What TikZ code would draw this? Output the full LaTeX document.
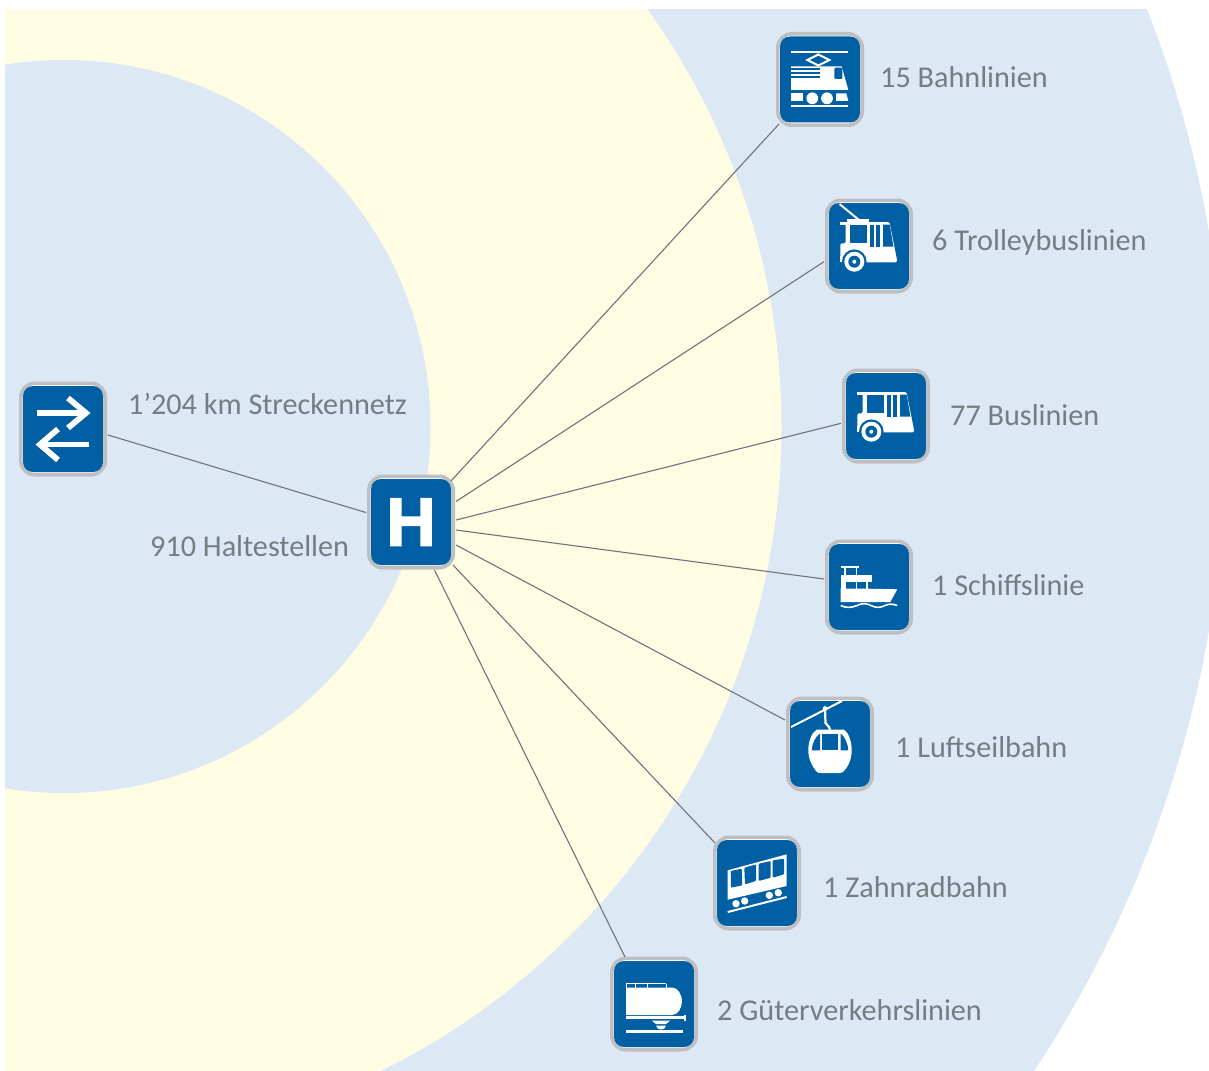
\documentclass[tikz,border=0pt]{standalone}
\usepackage{fontspec}
\setmainfont{Carlito}
\newfontfamily\hfont[BoldFeatures={FakeBold=2.5}]{Liberation Sans}
\definecolor{bgblue}{HTML}{DCE8F4}
\definecolor{bgyellow}{HTML}{FFFCE4}
\definecolor{iconblue}{HTML}{0060A3}
\definecolor{bordergray}{HTML}{BDBFC1}
\definecolor{labelgray}{HTML}{757D82}
\definecolor{linkgray}{HTML}{6E7478}
\tikzset{
  outerbox/.style={draw=bordergray,line width=3.6pt,fill=white,rounded corners=14pt,minimum width=84.4pt,minimum height=91.4pt,inner sep=0pt},
  innerbox/.style={fill=iconblue,rounded corners=10pt,minimum width=80pt,minimum height=86pt,inner sep=0pt},
  lab/.style={text=labelgray,font=\fontsize{30.2}{33}\selectfont,anchor=base west,inner sep=0pt},
  link/.style={draw=linkgray,line width=1.1pt},
  wf/.style={fill=white,draw=none},
  bf/.style={fill=iconblue,draw=none},
  wl/.style={draw=white,line width=#1},
  wl/.default=2pt,
}
\newcommand{\iconbox}[3]{%
  \node[outerbox] (#1) at (#2,#3) {};
  \node[innerbox] (#1-in) at (#1.center) {};
}
\newcommand{\busglyph}{%
  \fill[wf] (-28.7,-24) rectangle (19,-21.3);
  \fill[wf,rounded corners=1.5pt] (-23.3,-24) -- (20.5,-24) -- (28,14) -- (28,16.3) -- (-28.7,16.3) -- (-28.7,-2.7) -- (-23.3,-2.7) -- cycle;
  \fill[bf] (-19.3,-21.3) rectangle (-1.7,-2.7);
  \fill[bf] (1.3,-21.3) rectangle (4.7,0.7);
  \fill[bf] (6.7,-21.3) rectangle (11.3,0.7);
  \fill[bf] (14,-21.3) -- (20.8,-21.3) -- (24.4,0.7) -- (14,0.7) -- cycle;
  \fill[bf] (-14.7,15.7) circle (12.3);
  \fill[wf] (-14.7,15.7) circle (10);
  \fill[bf] (-14.7,15.7) circle (6);
  \fill[wf] (-14.7,15.7) circle (2);
  \fill[wf] (-28.7,10) rectangle (-26.7,16.3);
}
\begin{document}
\begin{tikzpicture}[x=1pt,y=-1pt]
\useasboundingbox (0,0) rectangle (1209,1070);
\begin{scope}
  \clip (5,10) rectangle (1209,1070);
  \fill[bgblue] (64,431) circle (1162);
  \fill[bgyellow] (64,427) circle (717.5);
  \fill[bgblue] (64,426.5) circle (366.5);
\end{scope}

\iconbox{train}{820}{79.5}
\iconbox{trolley}{869}{246}
\iconbox{bus}{886}{416}
\iconbox{ship}{869}{587}
\iconbox{gondola}{830}{744}
\iconbox{rack}{757}{883}
\iconbox{freight}{654}{1004}
\iconbox{net}{63}{429}
\iconbox{hub}{411}{522}

% connectors, from frame to frame
\draw[link] ([xshift=40pt,yshift=41pt]hub.center) -- ([xshift=-41pt,yshift=-44.5pt]train.center);
\draw[link] ([xshift=45pt,yshift=20.5pt]hub.center) -- ([xshift=-45pt,yshift=-15.7pt]trolley.center);
\draw[link] ([xshift=45pt,yshift=2pt]hub.center) -- ([xshift=-45pt,yshift=-7.3pt]bus.center);
\draw[link] ([xshift=45pt,yshift=-8pt]hub.center) -- ([xshift=-45pt,yshift=8pt]ship.center);
\draw[link] ([xshift=45pt,yshift=-23pt]hub.center) -- ([xshift=-45pt,yshift=24pt]gondola.center);
\draw[link] ([xshift=42pt,yshift=-43pt]hub.center) -- ([xshift=-42pt,yshift=40pt]rack.center);
\draw[link] ([xshift=23.5pt,yshift=-48pt]hub.center) -- ([xshift=-29pt,yshift=47pt]freight.center);
\draw[link] ([xshift=45pt,yshift=-6pt]net.center) -- ([xshift=-45pt,yshift=9.5pt]hub.center);

% train glyph
\begin{scope}[shift={(820,79.5)}]
  \fill[wf] (-29,-28.8) rectangle (28.3,-26.8);
  \fill[wf] (-29,25.5) rectangle (28.3,27.8);
  \draw[wl=2pt] (-1.7,-25) -- (9.3,-19.5) -- (-1.7,-14) -- (-12.7,-19.5) -- cycle;
  \fill[wf] (-29,-13) -- (21.7,-13) -- (28.3,10.5) -- (-29,10.5) -- cycle;
  \fill[bf] (-29,-11.2) rectangle (0,-9.5);
  \fill[bf] (-29,-7.5) rectangle (0,-5.8);
  \fill[bf] (-29,-3.5) rectangle (0,-1.8);
  \fill[bf,rounded corners=1pt] (14.3,-11.8) rectangle (22.3,-0.5);
  \fill[wf] (-29,13.8) rectangle (-17.3,21.5);
  \fill[wf] (16,13.8) -- (26.3,13.8) -- (28.3,21.5) -- (16,21.5) -- cycle;
  \fill[wf] (-7.7,18.8) circle (5.9);
  \fill[wf] (7,18.8) circle (5.9);
\end{scope}

% trolley glyph
\begin{scope}[shift={(869,246)}]
  \busglyph
  \draw[wl=2pt] (-29.5,-42) -- (-10,-26);
  \fill[wf] (-22,-27) rectangle (0,-23);
\end{scope}

% bus glyph
\begin{scope}[shift={(886,416)}]
  \busglyph
\end{scope}

% ship glyph
\begin{scope}[shift={(869,587)}]
  \fill[wf] (-28.3,-21.3) rectangle (-10,-19.5);
  \fill[wf] (-25,-20) rectangle (-23.3,-11);
  \fill[wf] (-13.3,-20) rectangle (-11.6,-11);
  \fill[wf] (-28.3,-11.7) rectangle (3.3,-5);
  \fill[wf] (-28.3,-5.5) rectangle (-1,2.5);
  \fill[bf] (-23.3,-5) rectangle (-13.3,1.7);
  \fill[bf] (-11.7,-5) rectangle (-2.7,1.7);
  \fill[wf] (-28.3,1.7) -- (-1,1.7) -- (28.3,2.3) -- (21.3,15) -- (-28.3,15) -- cycle;
  \draw[wl=1.6pt] (-28.3,18.5) .. controls (-23,21) and (-18,21) .. (-12,18.5) .. controls (-7,16) and (-3,16) .. (2,18.5) .. controls (7,21) and (11,21) .. (16,18.5) .. controls (20,16.5) and (24,17) .. (28.3,18.5);
\end{scope}

% gondola glyph
\begin{scope}[shift={(830,744)}]
  \draw[wl=2pt] (-39,-17) -- (12,-43);
  \fill[wf] (-5,-35.5) circle (2.4);
  \draw[wl=2.2pt] (-5,-35) -- (-4.5,-21) -- (-1,-17) -- (0,-14);
  \fill[wf] (-13,-14.5) -- (14,-14.5) .. controls (18,-12) and (21.7,-3) .. (21.7,6) .. controls (21.7,17) and (17,24) .. (13,28) .. controls (11,29.3) and (9,29) .. (7,29) -- (-8,29) .. controls (-11,29) and (-13,29) .. (-14,27) .. controls (-18,22) and (-21.7,15) .. (-21.7,6) .. controls (-21.7,-3) and (-18,-12) .. (-13,-14.5) -- cycle;
  \fill[bf] (-10,-10.5) -- (-10,6.3) -- (-18.3,6.3) .. controls (-18,0) and (-15,-7) .. (-10,-10.5) -- cycle;
  \fill[bf] (-7.7,-10.5) rectangle (8.3,6.3);
  \fill[bf] (10.7,-10.5) -- (10.7,6.3) -- (18.3,6.3) .. controls (18,0) and (15,-7) .. (10.7,-10.5) -- cycle;
\end{scope}

% rack railway glyph
\begin{scope}[shift={(757,883)}]
  \fill[wf] (-29.3,-12.7) -- (29.7,-28.7) -- (29.7,3) -- (-29.3,16.7) -- cycle;
  \fill[bf,rounded corners=1pt] (-26.3,-12) -- (-15.3,-14.3) -- (-14.7,2.3) -- (-26,4.7) -- cycle;
  \fill[bf,rounded corners=1pt] (-12.7,-15.3) -- (-1,-18.7) -- (-1,-2) -- (-12,1.3) -- cycle;
  \fill[bf,rounded corners=1pt] (1.7,-19.3) -- (13.7,-22) -- (13.7,-5.3) -- (1.7,-2) -- cycle;
  \fill[bf,rounded corners=1pt] (15.7,-22.7) -- (27,-24.3) -- (27,-8.7) -- (15.7,-5.3) -- cycle;
  \foreach \wx/\wy in {-21/20.7,-12.3/18,12.3/12.3,21.3/9.7}{\fill[wf] (\wx,\wy) circle (3.7);}
  \draw[wl=2pt] (-29.3,29) -- (29.7,14);
\end{scope}

% freight glyph
\begin{scope}[shift={(654,1004)}]
  \fill[wf] (-28,-21) rectangle (12,-19.7);
  \foreach \px in {-28,-19.5,-7.5,11.5}{\fill[wf] (\px,-20) rectangle (\px+1,-16);}
  \fill[wf] (-28,-16.5) -- (18,-16.5) .. controls (24,-16.5) and (28,-9) .. (28,-3) .. controls (28,4) and (24,11) .. (18,11) -- (-28,11) -- cycle;
  \fill[wf] (-28,12) rectangle (30,15);
  \fill[wf] (30,11) rectangle (32,17);
  \fill[wf] (-2.3,16.5) -- (16.3,16.5) -- (12,20) -- (2,20) -- cycle;
  \fill[wf] (2,21.5) -- (12,21.5) arc[start angle=0,end angle=180,x radius=5,y radius=4] -- cycle;
  \fill[wf] (-28,26) rectangle (29,28.7);
\end{scope}

% transfer arrows glyph
\begin{scope}[shift={(63,429)}]
  \draw[wl=5.8pt] (-26,-16) -- (22,-16);
  \draw[wl=5.8pt] (5,-31) -- (23,-16) -- (5,-1);
  \draw[wl=5.8pt] (26,15.5) -- (-22,15.5);
  \draw[wl=5.8pt] (-5,0) -- (-23,15.5) -- (-5,31);
\end{scope}

\node[inner sep=0pt,text=white,font=\hfont\bfseries\fontsize{68}{68}\selectfont] (hubletter) at (hub.center) {H};

\node[lab] (t1) at (880,88) {15 Bahnlinien};
\node[lab] (t2) at (932,250) {6 Trolleybuslinien};
\node[lab] (t3) at (950,425) {77 Buslinien};
\node[lab] (t4) at (932,595) {1 Schiffslinie};
\node[lab] (t5) at (895,757) {1 Luftseilbahn};
\node[lab] (t6) at (823,897) {1 Zahnradbahn};
\node[lab] (t7) at (717,1020) {2 Güterverkehrslinien};
\node[lab] (t8) at (128,414) {1’204 km Streckennetz};
\node[lab] (t9) at (150,556) {910 Haltestellen};
\end{tikzpicture}
\end{document}
